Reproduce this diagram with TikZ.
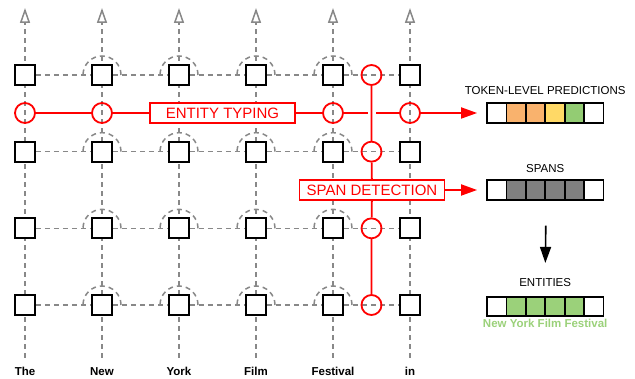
\documentclass[tikz,border=0pt]{standalone}
\usepackage{fontspec}
\setmainfont{Liberation Sans}
\usepackage{tikz}
\usetikzlibrary{backgrounds}
\usetikzlibrary{arrows.meta}
\usetikzlibrary{calc}

\definecolor{gridgray}{HTML}{888888}
\definecolor{typred}{HTML}{FF0000}
\definecolor{tokorange}{HTML}{F9B26D}
\definecolor{tokyellow}{HTML}{FFD966}
\definecolor{tokgreen}{HTML}{93CC73}
\definecolor{entgreen}{HTML}{9BD17A}
\definecolor{spangray}{HTML}{808080}

\begin{document}
\begin{tikzpicture}[x=1pt, y=1pt,
  grid/.style={draw=gridgray, line width=1.5pt, dash pattern=on 5pt off 4pt},
  cell/.style={draw=black, line width=1.9pt, fill=white, minimum size=20pt, inner sep=0pt},
  gate/.style={circle, draw=typred, line width=1.8pt, minimum size=20pt, inner sep=0pt},
  redline/.style={draw=typred, line width=1.8pt},
  taskbox/.style={draw=typred, line width=1.8pt, fill=white, text=typred,
    minimum width=145pt, minimum height=20pt, inner sep=2pt,
    font=\fontsize{15}{18}\selectfont},
  barcell/.style={draw=black, line width=1.8pt, minimum width=19.4pt,
    minimum height=19.5pt, inner sep=0pt},
  word/.style={font=\bfseries\fontsize{11.5}{13}\selectfont, anchor=base},
  barlabel/.style={font=\fontsize{11.5}{13}\selectfont, anchor=base}]
  \useasboundingbox (0,0) rectangle (635,379);

  % token cells
  \foreach \i in {1,...,6}
    \foreach \j in {1,...,4}
      \node[cell] (c\i\j) at ({25+77*(\i-1)}, {304-76.67*(\j-1)}) {};
  \foreach \w [count=\i] in {The,New,York,Film,Festival,in}
    \node[word] (w\i) at ({25+77*(\i-1)}, 3) {\w};

  % gates and task boxes
  \foreach \i in {1,2,5,6}
    \node[gate] (gt\i) at ({25+77*(\i-1)}, 266) {};
  \foreach \j in {1,...,4}
    \node[gate] (gs\j) at (371.5, {304-76.67*(\j-1)}) {};
  \node[taskbox] (typing) at (222.5,266) {ENTITY TYPING};
  \node[taskbox] (detect) at (372,189) {SPAN DETECTION};

  % output bars
  \foreach \col [count=\k] in {white,tokorange,tokorange,tokyellow,tokgreen,white}
    \node[barcell, fill=\col] (tok\k) at ({477.3+19.4*\k}, 266) {};
  \foreach \col [count=\k] in {white,spangray,spangray,spangray,spangray,white}
    \node[barcell, fill=\col] (spn\k) at ({477.3+19.4*\k}, 189) {};
  \foreach \col [count=\k] in {white,entgreen,entgreen,entgreen,entgreen,white}
    \node[barcell, fill=\col] (ent\k) at ({477.3+19.4*\k}, 72.5) {};
  \node[barlabel] (toklab) at (545.2,284) {TOKEN-LEVEL PREDICTIONS};
  \node[barlabel] (spnlab) at (545.2,206) {SPANS};
  \node[barlabel] (entlab) at (545.2,92) {ENTITIES};
  \node[word, text=entgreen] (entname) at (545.2,51.5) {New York Film Festival};

  % dashed grid behind everything
  \begin{scope}[on background layer]
    \foreach \i in {1,...,6} {
      \coordinate (bot\i) at ({25+77*(\i-1)}, 21);
      \coordinate (top\i) at ({25+77*(\i-1)}, 371);
      \draw[grid, -{Triangle[open, length=15pt, width=10pt]}] (bot\i) -- (top\i);
    }
    \foreach \j in {1,...,4} {
      \foreach \i [count=\k from 2] in {1,...,5}
        \draw[grid] (c\i\j) -- (c\k\j);
      \foreach \i in {2,...,5}
        \draw[grid] ($(c\i\j)+(19,0)$) arc[start angle=0, end angle=180, radius=19];
    }
  \end{scope}

  % red paths
  \draw[redline] (gt1) -- (gt2) -- (typing) -- (gt5) -- (gt6);
  \draw[redline, -{Triangle[length=16pt, width=11pt]}, shorten >=9pt] (gt6) -- (tok1);
  \draw[white, line width=8pt, shorten <=6pt, shorten >=6pt] (gs1) -- (gs2);
  \draw[redline] (gs1) -- (gs2) -- (detect) -- (gs3) -- (gs4);
  \draw[redline, -{Triangle[length=16pt, width=11pt]}, shorten >=9pt] (detect) -- (spn1);

  \draw[line width=1.6pt, -{Triangle[length=16pt, width=11pt]},
    shorten <=25pt, shorten >=12.5pt] (spn3.south east) -- (entlab.north);
\end{tikzpicture}
\end{document}
